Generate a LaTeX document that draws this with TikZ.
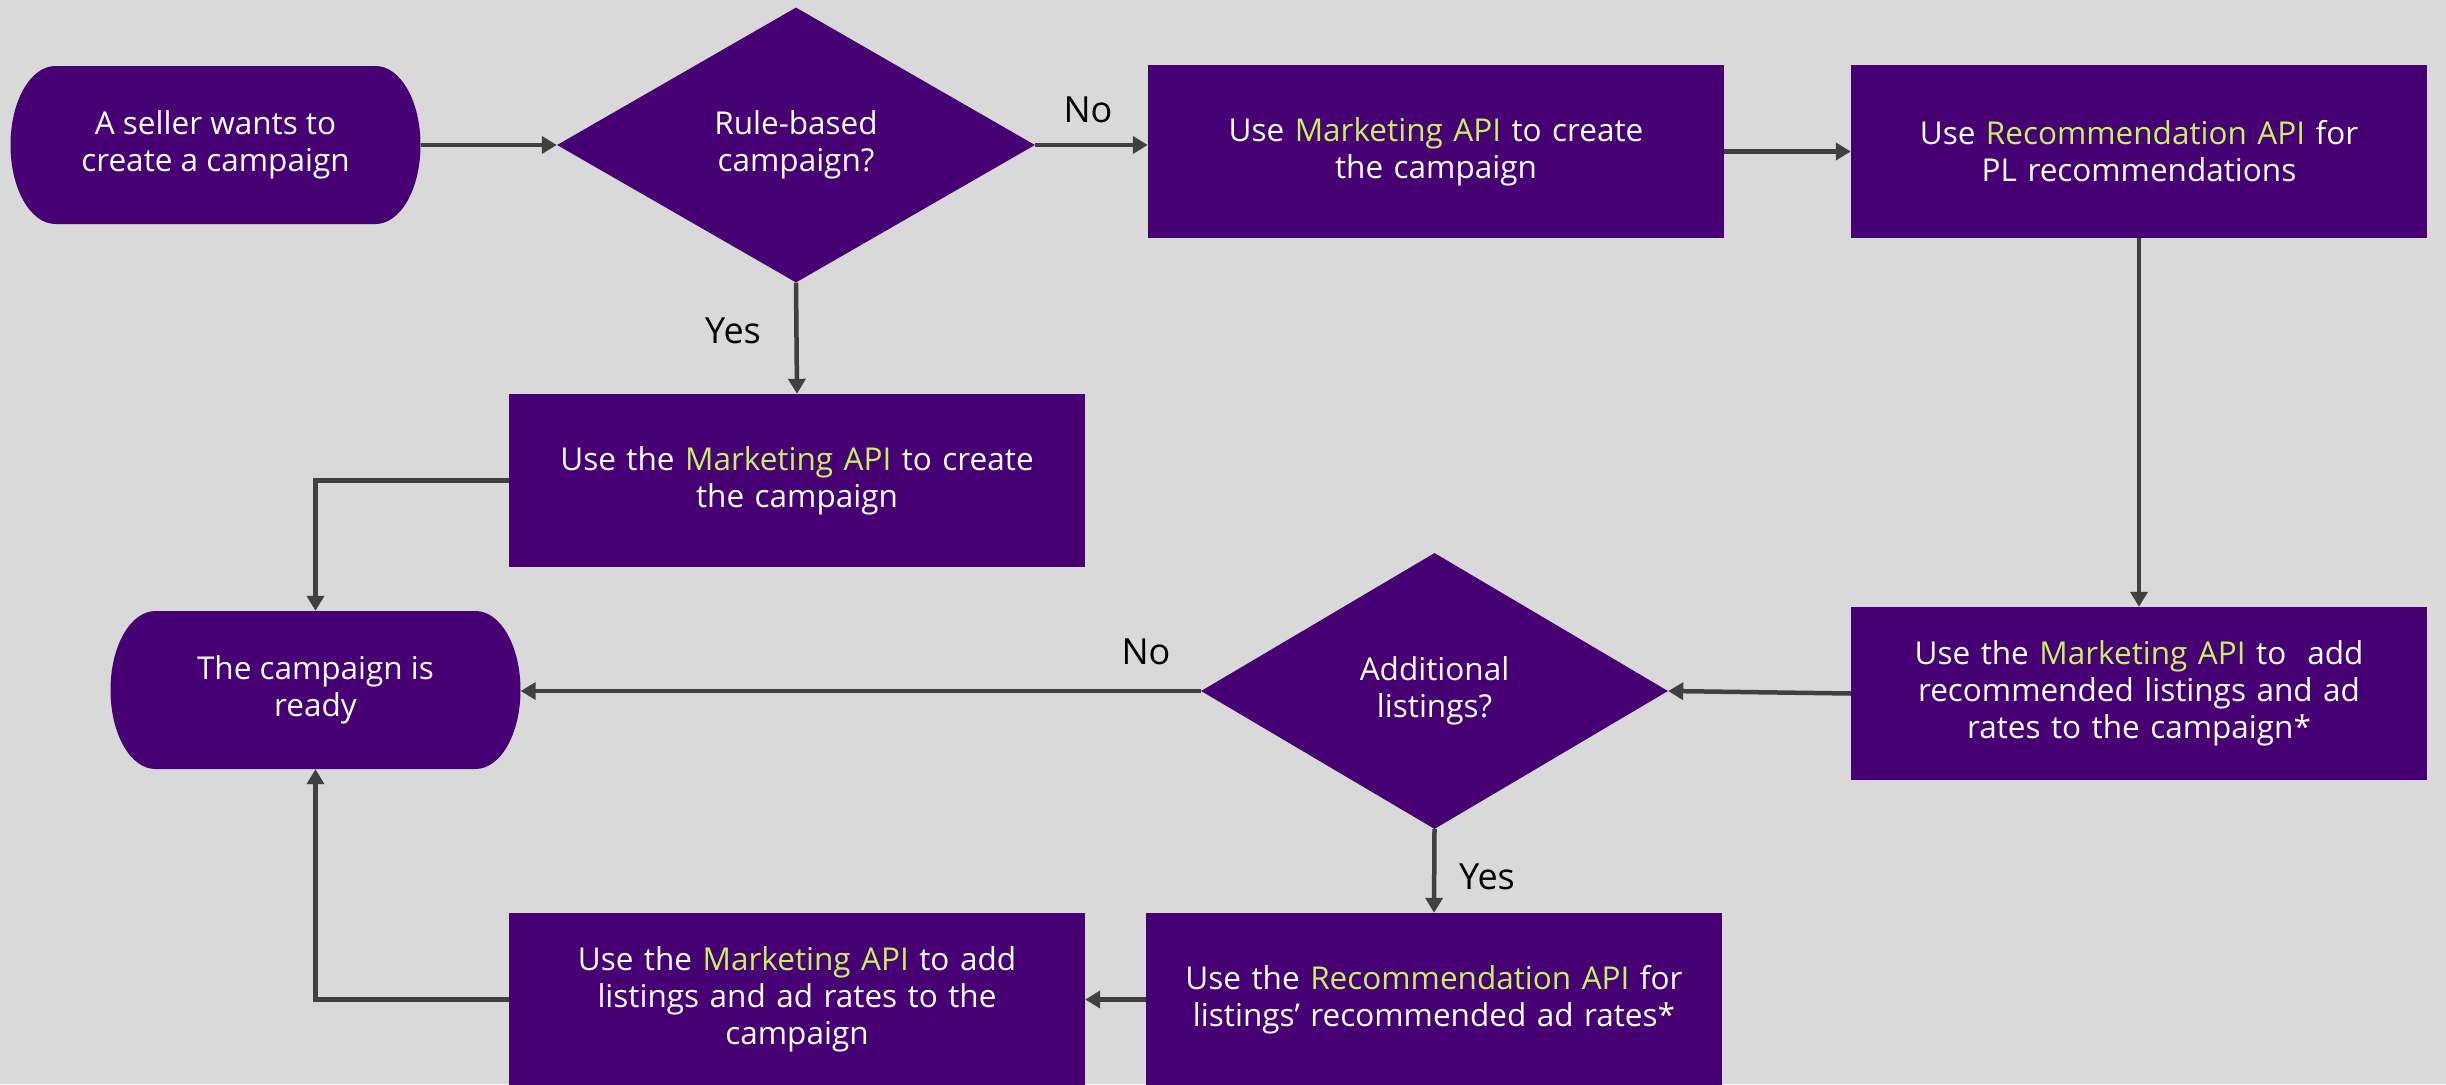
\documentclass[tikz,border=0pt]{standalone}
\usepackage{fontspec}
\setmainfont{Open Sans}
\usetikzlibrary{shapes.geometric,arrows.meta}
\definecolor{bgc}{RGB}{217,217,217}
\definecolor{purp}{RGB}{70,0,115}
\definecolor{lime}{RGB}{200,240,100}
\definecolor{arrc}{RGB}{64,64,64}
\newcommand\hl[1]{\textcolor{lime}{#1}}
\newcommand\termshape[2]{%
  \fill[purp] ({#1-160},{#2-79}) -- ({#1+160},{#2-79})
    .. controls ({#1+185},{#2-79}) and ({#1+205},{#2-44}) .. ({#1+205},{#2})
    .. controls ({#1+205},{#2+44}) and ({#1+185},{#2+79}) .. ({#1+160},{#2+79})
    -- ({#1-160},{#2+79})
    .. controls ({#1-185},{#2+79}) and ({#1-205},{#2+44}) .. ({#1-205},{#2})
    .. controls ({#1-205},{#2-44}) and ({#1-185},{#2-79}) .. ({#1-160},{#2-79}) -- cycle;}
\begin{document}
\begin{tikzpicture}[x=1pt,y=-1pt,
  txt/.style={text=white, align=center, font=\fontsize{31.5}{37}\selectfont},
  box/.style={txt, fill=purp, minimum width=576pt, minimum height=173pt, inner sep=0pt, text width=560pt},
  term/.style={txt, minimum width=410pt, minimum height=158pt, inner sep=0pt},
  dec/.style={txt, diamond, fill=purp, inner sep=0pt},
  lbl/.style={text=black, font=\fontsize{36}{40}\selectfont},
  conn/.style={draw=arrc, line width=4.5pt, -{Triangle[length=15pt,width=17pt]}}
]
\fill[bgc] (0,0) rectangle (2446,1084);
\useasboundingbox (0,0) rectangle (2446,1084);
\termshape{215.5}{145}
\termshape{315.5}{690}
\node[term] (start) at (215.5,145) {A seller wants to\\create a campaign};
\node[dec, minimum width=478pt, minimum height=275pt] (d1) at (796,145) {Rule-based\\campaign?};
\node[box] (b1) at (1436,151.5) {Use \hl{Marketing API} to create\\the campaign};
\node[box] (b2) at (2139,151.5) {Use \hl{Recommendation API} for\\PL recommendations};
\node[box] (b3) at (797,480.5) {Use the \hl{Marketing API} to create\\the campaign};
\node[term] (end) at (315.5,690) {The campaign is\\ready};
\node[dec, minimum width=467pt, minimum height=276pt] (d2) at (1434.5,691) {Additional\\listings?};
\node[box] (b4) at (2139,693.5) {Use the \hl{Marketing API} to\ \ add\\recommended listings and ad\\rates to the campaign*};
\node[box] (b5) at (1434,999.5) {Use the \hl{Recommendation API} for\\listings’ recommended ad rates*};
\node[box] (b6) at (797,999.5) {Use the \hl{Marketing API} to add\\listings and ad rates to the\\campaign};
\node[lbl] (no1) at (1088,110) {No};
\node[lbl] (yes1) at (733,331) {Yes};
\node[lbl] (no2) at (1146,652) {No};
\node[lbl] (yes2) at (1487,877) {Yes};
\draw[conn] (start.east) -- (d1.west);
\draw[conn] (d1.east) -- (d1.east -| b1.west);
\draw[conn] (b1) -- (b2);
\draw[conn] (d1.south) -- (b3.north);
\draw[conn] (b3.west) -| (end.north);
\draw[conn] (b2) -- (b4);
\draw[conn] (b4.west) -- (d2.east);
\draw[conn] (d2.west) -- (d2.west -| end.east);
\draw[conn] (d2.south) -- (b5.north);
\draw[conn] (b5) -- (b6);
\draw[conn] (b6.west) -| (end.south);
\end{tikzpicture}
\end{document}
